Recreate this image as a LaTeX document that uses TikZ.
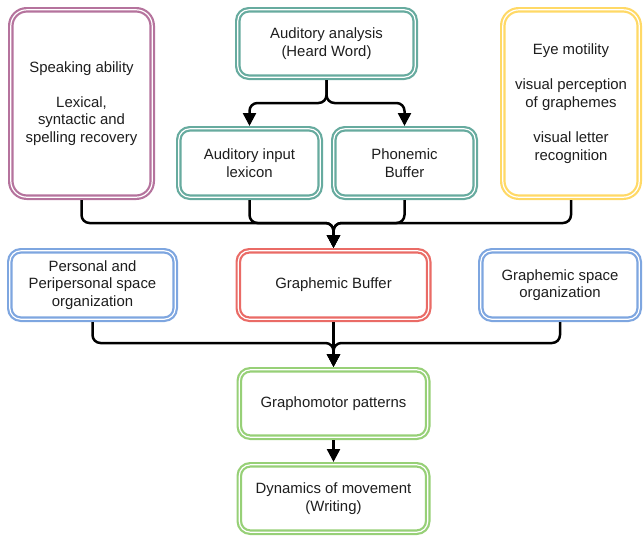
\documentclass[tikz,border=0pt]{standalone}
\usepackage{fontspec}
\setmainfont{Liberation Sans}
\usetikzlibrary{arrows.meta}

\definecolor{pinkc}{HTML}{B5739D}
\definecolor{tealc}{HTML}{67AB9F}
\definecolor{yellowc}{HTML}{FFD966}
\definecolor{bluec}{HTML}{7EA6E0}
\definecolor{redc}{HTML}{EA6B66}
\definecolor{greenc}{HTML}{97D077}
\definecolor{txt}{HTML}{1E1E1E}

\begin{document}
\begin{tikzpicture}[x=1pt,y=-1pt,
  box/.style={draw=#1, double=white, double distance=1.2pt, line width=2.2pt,
    fill=white, rounded corners=11pt, outer sep=2.8pt, inner sep=0pt,
    align=center, text=txt, font=\fontsize{14.9}{17.6}\selectfont},
  tall/.style={rounded corners=16pt},
  conn/.style={draw=black, line width=2.5pt, rounded corners=8pt,
    -{Triangle[width=13pt,length=13pt]}}
]
\useasboundingbox (0,0) rectangle (643,536);

% top row
\node[box=pinkc, tall, minimum width=141.4pt, minimum height=187.4pt] (speak) at (81.5,103.5)
  {Speaking ability\\[17.6pt]Lexical,\\syntactic and\\spelling recovery};
\node[box=tealc, minimum width=177.4pt, minimum height=67.4pt] (aa) at (326.5,43.5)
  {Auditory analysis\\(Heard Word)};
\node[box=yellowc, tall, minimum width=136.4pt, minimum height=187.4pt] (eye) at (571,103.5)
  {Eye motility\\[17.6pt]visual perception\\of graphemes\\[17.6pt]visual letter\\recognition};

% auditory branch
\node[box=tealc, minimum width=141.4pt, minimum height=68.4pt] (ail) at (249.5,163)
  {Auditory input\\lexicon};
\node[box=tealc, minimum width=141.4pt, minimum height=68.4pt] (phon) at (404.5,163)
  {Phonemic\\Buffer};

% middle row
\node[box=bluec, minimum width=165.4pt, minimum height=68.4pt] (pers) at (92.5,285)
  {Personal and\\Peripersonal space\\organization};
\node[box=redc, minimum width=190.4pt, minimum height=68.4pt] (gbuf) at (333.5,285)
  {Graphemic Buffer};
\node[box=bluec, minimum width=158.4pt, minimum height=68.4pt] (gspace) at (560,285)
  {Graphemic space\\organization};

% output chain
\node[box=greenc, minimum width=188.4pt, minimum height=67.4pt] (gm) at (333.5,403.5)
  {Graphomotor patterns};
\node[box=greenc, minimum width=188.4pt, minimum height=67.4pt] (dyn) at (333.5,498.5)
  {Dynamics of movement\\(Writing)};

% junction points of the merging connectors
\coordinate (fork) at (326.5,103);
\coordinate (jt) at (333.5,223);
\coordinate (jb) at (333.5,343);

% auditory analysis splits into two
\draw[conn] (aa.south) -- (fork) -| (ail.north);
\draw[conn] (aa.south) -- (fork) -| (phon.north);

% top row merges into the graphemic buffer
\draw[conn] (speak.south) |- (jt) -- (gbuf.north);
\draw[conn] (ail.south) |- (jt) -- (gbuf.north);
\draw[conn] (phon.south) |- (jt) -- (gbuf.north);
\draw[conn] (eye.south) |- (jt) -- (gbuf.north);

% middle row merges into graphomotor patterns
\draw[conn] (pers.south) |- (jb) -- (gm.north);
\draw[conn] (gbuf.south) -- (gm.north);
\draw[conn] (gspace.south) |- (jb) -- (gm.north);

\draw[conn] (gm.south) -- (dyn.north);
\end{tikzpicture}
\end{document}
